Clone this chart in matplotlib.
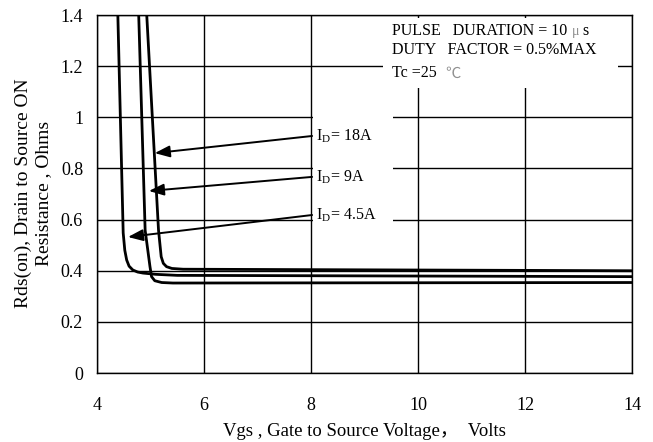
import matplotlib.pyplot as plt
from matplotlib.patches import Rectangle

plt.rcParams['font.family'] = ['Liberation Serif', 'DejaVu Serif', 'Noto Sans CJK SC']
plt.rcParams['mathtext.fontset'] = 'custom'
plt.rcParams['mathtext.rm'] = 'Liberation Serif'

# 曲線データ (Vgs, Rds)
id45_x = [4.39, 4.49, 4.52, 4.555, 4.60, 4.67, 4.76, 4.86, 5.1, 5.5, 14.0]
id45_y = [1.40, 0.548, 0.48, 0.442, 0.418, 0.403, 0.395, 0.391, 0.386, 0.382, 0.377]
id9_x = [4.78, 4.90, 4.99, 5.02, 5.08, 5.21, 5.42, 14.0]
id9_y = [1.40, 0.559, 0.417, 0.377, 0.361, 0.354, 0.352, 0.354]
id18_x = [4.93, 5.15, 5.20, 5.24, 5.30, 5.40, 5.61, 14.0]
id18_y = [1.40, 0.559, 0.455, 0.429, 0.416, 0.409, 0.406, 0.400]

# ラベルと矢印
labels = [r"I$_\mathrm{D}$= 18A", r"I$_\mathrm{D}$= 9A", r"I$_\mathrm{D}$= 4.5A"]
label_y = [0.927, 0.767, 0.618]
arrow_tip_x = [5.08, 4.97, 4.58]
arrow_tip_y = [0.86, 0.712, 0.532]

xticks = [4, 6, 8, 10, 12, 14]
yticks = [0, 0.2, 0.4, 0.6, 0.8, 1, 1.2, 1.4]
ytick_labels = ["0", "0.2", "0.4", "0.6", "0.8", "1", "1.2", "1.4"]

fig = plt.figure(figsize=(6.53, 4.42), dpi=100)
ax = fig.add_axes([0.1485, 0.156, 0.8195, 0.81])

ax.plot(id45_x, id45_y, color='black', lw=2.0, zorder=2)
ax.plot(id9_x, id9_y, color='black', lw=2.0, zorder=2)
ax.plot(id18_x, id18_y, color='black', lw=2.0, zorder=2)

ax.set_xlim(4, 14)
ax.set_ylim(0, 1.4)
ax.set_xticks(xticks)
ax.set_yticks(yticks)
ax.set_yticklabels(ytick_labels)
ax.tick_params(axis='both', length=0, labelsize=13)
ax.tick_params(axis='x', pad=17)
ax.tick_params(axis='y', pad=10)
ax.set_axisbelow(True)
ax.grid(True, color='black', lw=1.0)
for s in ax.spines.values():
    s.set_linewidth(1.0)

# 文字の背景（グリッドを消す）
ax.add_patch(Rectangle((8.04, 0.56), 1.5, 0.49, fc='white', ec='none', zorder=1))
ax.add_patch(Rectangle((9.35, 1.115), 4.39, 0.273, fc='white', ec='none', zorder=1))

for lab, ly, tx, ty in zip(labels, label_y, arrow_tip_x, arrow_tip_y):
    ax.text(8.1, ly, lab, fontsize=11.5, ha='left', va='center', zorder=4)
    ax.annotate('', xy=(tx, ty), xytext=(8.02, ly),
                arrowprops=dict(arrowstyle='-|>,head_length=0.9,head_width=0.35',
                                color='black', lw=1.4, shrinkA=0, shrinkB=0,
                                mutation_scale=10),
                zorder=3)

# 条件表示
t1 = ax.text(9.52, 1.336, "PULSE   DURATION = 10 ", fontsize=11.5, va='center', zorder=4)
t1b = ax.annotate("μ", xy=(1, 0.5), xycoords=t1, va='center', ha='left',
                  fontsize=10, color='#909090', zorder=4)
ax.annotate(" s", xy=(1, 0.5), xycoords=t1b, va='center', ha='left',
            fontsize=11.5, zorder=4)
ax.text(9.52, 1.263, "DUTY   FACTOR = 0.5%MAX", fontsize=11.5, va='center', zorder=4)
t3 = ax.text(9.52, 1.173, "Tc =25  ", fontsize=11.5, va='center', zorder=4)
ax.annotate("℃", xy=(1, 0.5), xycoords=t3, va='center', ha='left',
            fontsize=11, color='#909090', family=['Noto Sans CJK SC'], zorder=4)

ax.set_xlabel("Vgs , Gate to Source Voltage，  Volts", fontsize=13.5, labelpad=7)
fig.text(0.051, 0.563, "Rds(on), Drain to Source ON\nResistance , Ohms", fontsize=14,
         rotation=90, ha='center', va='center', multialignment='center', linespacing=1.3)

plt.savefig("out.png", dpi=100)
